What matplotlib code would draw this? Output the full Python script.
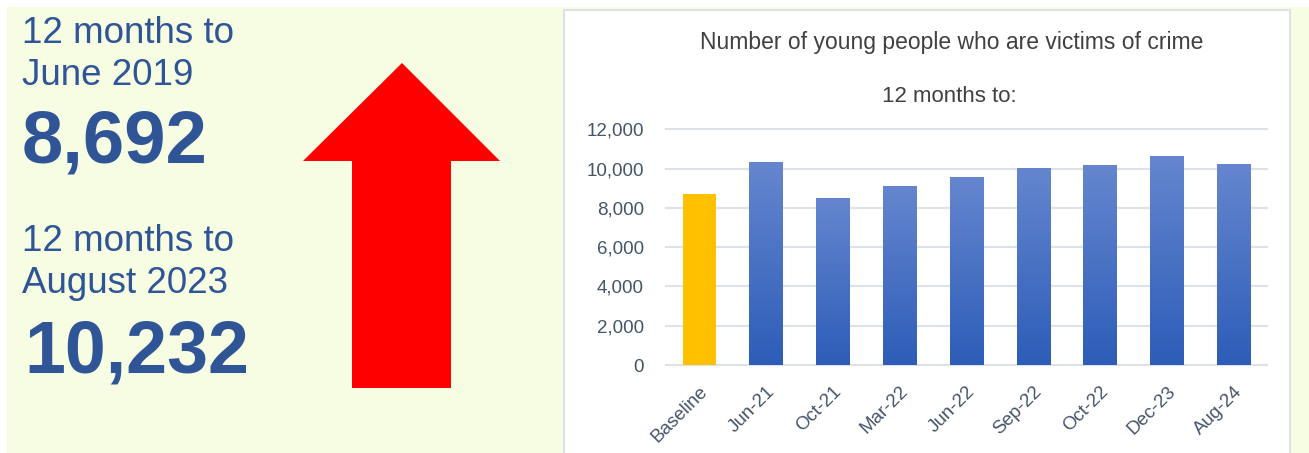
import numpy as np
import matplotlib.pyplot as plt
from matplotlib.patches import Rectangle, Polygon
from matplotlib.colors import LinearSegmentedColormap

plt.rcParams['font.family'] = ['Liberation Sans', 'DejaVu Sans']

# data
categories = ['Baseline', 'Jun-21', 'Oct-21', 'Mar-22', 'Jun-22',
              'Sep-22', 'Oct-22', 'Dec-23', 'Aug-24']
victims = [8692, 10350, 8500, 9100, 9570, 10030, 10170, 10640, 10232]
yticks = [0, 2000, 4000, 6000, 8000, 10000, 12000]

headline_values = ['8,692', '10,232']

W, H = 1309, 453
fig = plt.figure(figsize=(W / 100, H / 100), dpi=100, facecolor='white')

def fx(px):
    return px / W

def fy(py):
    return 1 - py / H

# light green background
fig.patches.append(Rectangle((fx(7), 0), 1 - fx(7), fy(7), transform=fig.transFigure,
                             facecolor='#F6FDE2', edgecolor='none', zorder=-3))
# white chart panel
fig.patches.append(Rectangle((fx(564), -0.01), fx(1290) - fx(564), fy(10) + 0.01,
                             transform=fig.transFigure, facecolor='white',
                             edgecolor='#DDE1E8', linewidth=1.5, zorder=-2))

# left side headline text
navy = '#2F5597'
fig.text(fx(22), fy(43), '12 months to', fontsize=26.5, color=navy, va='baseline')
fig.text(fx(22), fy(85), 'June 2019', fontsize=26.5, color=navy, va='baseline')
fig.text(fx(22), fy(163), headline_values[0], fontsize=53.5, color=navy,
         fontweight='bold', va='baseline')
fig.text(fx(22), fy(251), '12 months to', fontsize=26.5, color=navy, va='baseline')
fig.text(fx(22), fy(293), 'August 2023', fontsize=26.5, color=navy, va='baseline')
fig.text(fx(24), fy(372), headline_values[1], fontsize=53, color=navy,
         fontweight='bold', va='baseline')

# big red arrow
arrow_px = [(402, 63), (500, 161), (451, 161), (451, 388), (352, 388),
            (352, 161), (303, 161)]
fig.patches.append(Polygon([(fx(x), fy(y)) for x, y in arrow_px], closed=True,
                           transform=fig.transFigure, facecolor='#FF0000',
                           edgecolor='none', zorder=-1))

# chart titles
grey = '#404040'
fig.text(fx(952), fy(42), 'Number of young people who are victims of crime',
         fontsize=16.5, color=grey, ha='center', va='center')
fig.text(fx(949), fy(96), '12 months to:', fontsize=16, color=grey,
         ha='center', va='center')

# bar chart
ax = fig.add_axes([fx(666), fy(365), fx(1267) - fx(666), fy(129.3) - fy(365)])
ax.set_zorder(5)
ax.set_facecolor('none')
x = np.arange(len(categories))
colors = ['#FFC000'] + ['#4472C4'] * (len(categories) - 1)
bars = ax.bar(x, victims, width=0.5, color=colors, zorder=3)

# vertical gradient on blue bars
grad = np.linspace(0, 1, 256).reshape(-1, 1)
cmap = LinearSegmentedColormap.from_list('bluegrad', ['#2D5DB8', '#6586CF'])
for b in bars[1:]:
    x0, w, h = b.get_x(), b.get_width(), b.get_height()
    im = ax.imshow(grad, extent=[x0, x0 + w, 0, h], origin='lower', cmap=cmap,
                   aspect='auto', zorder=4)
    im.set_clip_path(b)

ax.set_xlim(-0.5, len(categories) - 0.5)
ax.set_ylim(0, 12000)
ax.set_yticks(yticks)
ax.set_yticklabels([f'{v:,}' for v in yticks])
ax.set_xticks(x)
ax.set_xticklabels(categories, rotation=45, ha='right', rotation_mode='anchor')
ax.tick_params(length=0, labelsize=13.5, labelcolor='#44546A')
ax.tick_params(axis='y', pad=16)
ax.tick_params(axis='x', pad=13)
ax.grid(axis='y', color='#DDE1E8', linewidth=1.5, zorder=0)
for gl in ax.get_ygridlines():
    gl.set_clip_on(False)
for s in ax.spines.values():
    s.set_visible(False)

fig.savefig('out.png', dpi=100, facecolor='white')
